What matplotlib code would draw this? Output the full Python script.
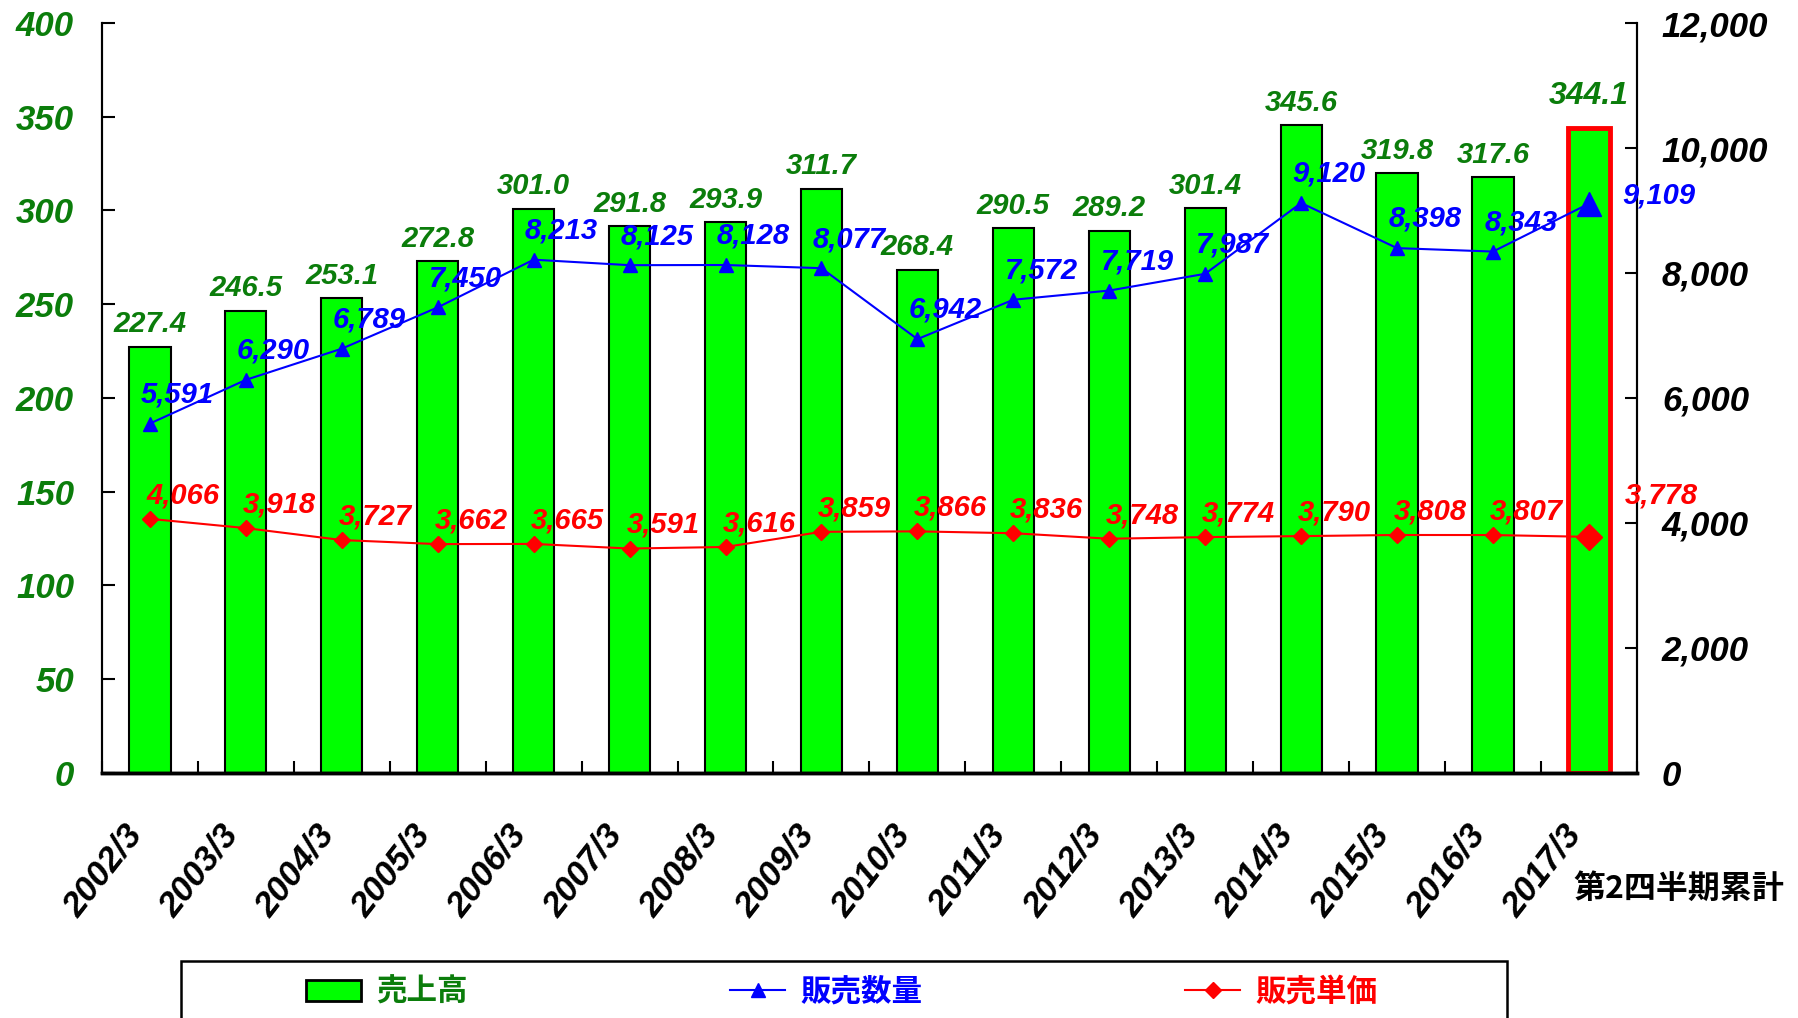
import matplotlib.pyplot as plt
from matplotlib.patches import Rectangle, Patch
from matplotlib.lines import Line2D
from matplotlib import font_manager

# data
years = ['2002/3', '2003/3', '2004/3', '2005/3', '2006/3', '2007/3', '2008/3', '2009/3',
         '2010/3', '2011/3', '2012/3', '2013/3', '2014/3', '2015/3', '2016/3', '2017/3']
sales = [227.4, 246.5, 253.1, 272.8, 301.0, 291.8, 293.9, 311.7,
         268.4, 290.5, 289.2, 301.4, 345.6, 319.8, 317.6, 344.1]
volume = [5591, 6290, 6789, 7450, 8213, 8125, 8128, 8077,
          6942, 7572, 7719, 7987, 9120, 8398, 8343, 9109]
unit_price = [4066, 3918, 3727, 3662, 3665, 3591, 3616, 3859,
              3866, 3836, 3748, 3774, 3790, 3808, 3807, 3778]
legend_names = ['売上高', '販売数量', '販売単価']
note = '第2四半期累計'

GREEN_TXT = '#0b7d0b'
NUM = dict(family='Liberation Sans', style='italic', weight='bold')
JP = dict(family=['Noto Sans CJK JP', 'DejaVu Sans'], weight='bold')

# narrow face for the slanted year labels, if it is there
names = {f.name for f in font_manager.fontManager.ttflist}
if 'Liberation Sans Narrow' in names:
    XLAB = dict(family='Liberation Sans Narrow', style='italic', weight='bold', fontsize=30)
else:
    XLAB = dict(NUM, fontsize=25)

fig = plt.figure(figsize=(17.98, 10.18), dpi=100)
ax = fig.add_axes([0.0567, 0.2407, 0.8537, 0.7367])
ax2 = ax.twinx()

n = len(years)
x = list(range(n))

# bars
bars = ax.bar(x, sales, width=0.43, color='#00ff00', edgecolor='black', linewidth=1.5, zorder=2)
bars[-1].set_edgecolor('red')
bars[-1].set_linewidth(3.5)

for i, v in enumerate(sales):
    last = i == n - 1
    ax.annotate(f'{v:.1f}', (i, v), xytext=(0, 12 if last else 6), textcoords='offset points',
                ha='center', va='bottom', color=GREEN_TXT, fontsize=23 if last else 21, **NUM)

ax.set_xlim(-0.5, n - 0.5)
ax.set_ylim(0, 400)
ax.set_yticks(range(0, 401, 50))
ax2.set_ylim(0, 12000)
ax2.set_yticks(range(0, 12001, 2000))
ax2.set_yticklabels([f'{t:,}' for t in range(0, 12001, 2000)])

# lines
ax2.plot(x, volume, color='blue', lw=1.5, marker='^', ms=10, zorder=3)
ax2.plot([x[-1]], [volume[-1]], color='blue', marker='^', ms=17, zorder=4)
ax2.plot(x, unit_price, color='red', lw=1.5, marker='D', ms=8, zorder=3)
ax2.plot([x[-1]], [unit_price[-1]], color='red', marker='D', ms=13, zorder=4)

for i, v in enumerate(volume):
    off = (50, 6) if i == n - 1 else (20, 21)
    ax2.annotate(f'{v:,}', (i, v), xytext=off, textcoords='offset points',
                 ha='center', va='center', color='blue', fontsize=21, **NUM)
for i, v in enumerate(unit_price):
    off = (52, 30) if i == n - 1 else (24, 17)
    ax2.annotate(f'{v:,}', (i, v), xytext=off, textcoords='offset points',
                 ha='center', va='center', color='red', fontsize=21, **NUM)

# spines and ticks
for a in (ax, ax2):
    a.spines['top'].set_visible(False)
    a.spines['left'].set_linewidth(1.5)
    a.spines['right'].set_linewidth(1.5)
    a.spines['bottom'].set_linewidth(2.5)

ax.set_xticks([i + 0.5 for i in range(-1, n)])
ax.set_xticklabels([])
ax.tick_params(axis='x', which='major', direction='in', length=9, width=1.5)
ax.set_xticks([i - 0.14 for i in x], labels=years, minor=True)
ax.tick_params(axis='x', which='minor', length=0, pad=40)
for lab in ax.get_xticklabels(minor=True):
    lab.set(rotation=52, ha='right', va='center', rotation_mode='anchor', **XLAB)

ax.tick_params(axis='y', direction='in', length=9, width=1.5, pad=20, labelcolor=GREEN_TXT)
for lab in ax.get_yticklabels():
    lab.set(fontsize=25, **NUM)
ax2.tick_params(axis='y', direction='in', length=9, width=1.5, pad=18)
for lab in ax2.get_yticklabels():
    lab.set(fontsize=25, **NUM)

fig.text(0.934, 0.127, note, ha='center', va='center', fontsize=23, color='black', **JP)

# legend with its box running off the bottom
fig.patches.append(Rectangle((181 / 1798, -0.05), 1326 / 1798, 0.05 + 57 / 1018,
                             transform=fig.transFigure, fill=False, edgecolor='black',
                             linewidth=1.8, zorder=5))
handles = [Patch(facecolor='#00ff00', edgecolor='black', linewidth=2),
           Line2D([], [], color='blue', marker='^', ms=10, lw=1.5),
           Line2D([], [], color='red', marker='D', ms=8, lw=1.5)]
leg = fig.legend(handles, legend_names, loc='center left',
                 bbox_to_anchor=(278 / 1798, 1 - 992 / 1018), ncol=3, frameon=False,
                 handlelength=1.8, handletextpad=0.5, columnspacing=8.6,
                 prop=dict(family=['Noto Sans CJK JP', 'DejaVu Sans'], weight='bold', size=22))
for t, c in zip(leg.get_texts(), [GREEN_TXT, 'blue', 'red']):
    t.set_color(c)

fig.savefig('out.png', dpi=100)
